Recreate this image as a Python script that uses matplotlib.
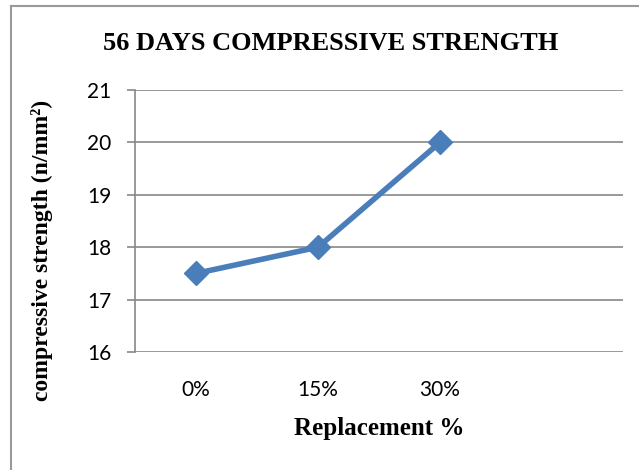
import matplotlib.pyplot as plt
from matplotlib.lines import Line2D

# data
categories = ['0%', '15%', '30%', '']
strength = [17.5, 18, 20]
y_ticks = [16, 17, 18, 19, 20, 21]

fig = plt.figure(figsize=(6.39, 4.70), dpi=100)
ax = fig.add_axes([135 / 639, 118 / 470, 488 / 639, 262 / 470])

x = list(range(len(categories)))
ax.plot(x[:len(strength)], strength, color='#4A7EBB', lw=4,
        marker='D', ms=12, solid_joinstyle='round')

ax.set_xlim(-0.5, len(categories) - 0.5)
ax.set_ylim(16, 21)
ax.set_yticks(y_ticks)
ax.set_xticks(x)
ax.set_xticklabels(categories, fontsize=15, family='Lato')
ax.set_yticklabels([str(t) for t in y_ticks], fontsize=15, family='Lato')
ax.tick_params(axis='x', length=0, pad=20)
ax.tick_params(axis='y', length=6, width=1.2, color='#888888', pad=11)

ax.grid(axis='y', color='#888888', lw=1.2)
ax.set_axisbelow(True)
for s in ['top', 'right', 'bottom']:
    ax.spines[s].set_visible(False)
ax.spines['left'].set_color('#888888')
ax.spines['left'].set_linewidth(1.2)

fig.text(331 / 639, 1 - 43 / 470, '56 DAYS COMPRESSIVE STRENGTH',
         ha='center', va='center', fontsize=19, fontweight='bold',
         family='Liberation Serif')
fig.text(379 / 639, 1 - 428 / 470, 'Replacement %', ha='center', va='center',
         fontsize=18, fontweight='bold', family='Liberation Serif')
fig.text(42 / 639, 1 - 250 / 470, 'compressive strength (n/mm²)',
         ha='center', va='center', rotation=90, fontsize=17,
         fontweight='bold', family='Liberation Serif')

# chart border (top and left visible)
fig.add_artist(Line2D([11 / 639, 1], [1 - 6 / 470, 1 - 6 / 470],
                      transform=fig.transFigure, color='#999999', lw=1.5))
fig.add_artist(Line2D([11 / 639, 11 / 639], [0, 1 - 6 / 470],
                      transform=fig.transFigure, color='#999999', lw=1.5))

fig.savefig('out.png', dpi=100)
